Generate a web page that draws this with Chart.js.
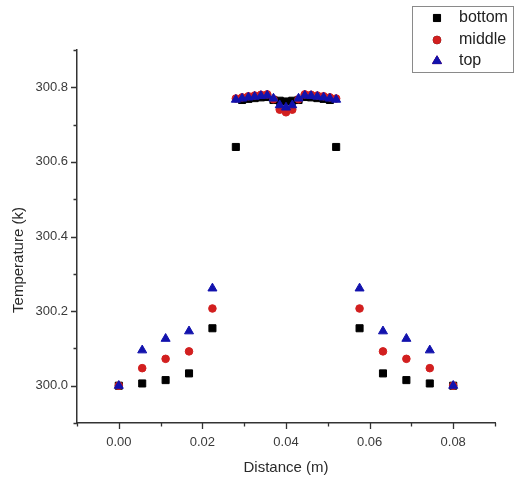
<!DOCTYPE html>
<html>
<head>
<meta charset="utf-8">
<script src="https://cdn.jsdelivr.net/npm/chart.js@4/dist/chart.umd.min.js"></script>
<style>
  html, body { margin: 0; padding: 0; background: #fff; }
  #wrap { width: 514px; height: 481px; }
</style>
</head>
<body>
<div id="wrap"><canvas id="c" width="514" height="481"></canvas></div>
<script>
// Distance along the section (m)
const distance = [
  0, 0.0056, 0.0112, 0.0168, 0.0224,
  0.028, 0.0295, 0.031, 0.0325, 0.034, 0.0355, 0.037, 0.0385,
  0.04,
  0.0415, 0.043, 0.0445, 0.046, 0.0475, 0.049, 0.0505, 0.052,
  0.0576, 0.0632, 0.0688, 0.0744, 0.08
];

// Temperature (K) at each distance
const bottomTemp = [
  300.0, 300.006, 300.015, 300.033, 300.154,
  300.640, 300.766, 300.769, 300.771, 300.773, 300.774, 300.766, 300.764,
  300.762,
  300.764, 300.766, 300.774, 300.773, 300.771, 300.769, 300.766, 300.640,
  300.154, 300.033, 300.015, 300.006, 300.0
];
const middleTemp = [
  300.0, 300.047, 300.072, 300.092, 300.207,
  300.770, 300.773, 300.776, 300.778, 300.780, 300.781, 300.768, 300.740,
  300.733,
  300.740, 300.768, 300.781, 300.780, 300.778, 300.776, 300.773, 300.770,
  300.207, 300.092, 300.072, 300.047, 300.0
];
const topTemp = [
  300.0, 300.095, 300.126, 300.146, 300.261,
  300.767, 300.770, 300.773, 300.775, 300.777, 300.778, 300.770, 300.752,
  300.746,
  300.752, 300.770, 300.778, 300.777, 300.775, 300.773, 300.770, 300.767,
  300.261, 300.146, 300.126, 300.095, 300.0
];

// Axis ticks
const xMajorTicks = [0, 0.02, 0.04, 0.06, 0.08];
const xMinorTicks = [-0.01, 0.01, 0.03, 0.05, 0.07, 0.09];
const yMajorTicks = [300.0, 300.2, 300.4, 300.6, 300.8];
const yMinorTicks = [299.9, 300.1, 300.3, 300.5, 300.7, 300.9];

const FONT = '"Liberation Sans", Arial, Helvetica, sans-serif';
const AXIS_COLOR = '#333';
const TEXT_COLOR = '#3a3a3a';

function toPoints(ys) {
  return distance.map((x, i) => ({ x: x, y: ys[i] }));
}

// Outward tick marks, long for major and short for minor values
const tickMarks = {
  id: 'tickMarks',
  afterDraw(chart) {
    const ctx = chart.ctx;
    const xs = chart.scales.x, ys = chart.scales.y;
    const area = chart.chartArea;
    ctx.save();
    ctx.strokeStyle = AXIS_COLOR;
    ctx.lineWidth = 1.3;
    ctx.beginPath();
    xMajorTicks.forEach(v => { const p = Math.round(xs.getPixelForValue(v)) + 0.5; ctx.moveTo(p, area.bottom); ctx.lineTo(p, area.bottom + 6); });
    xMinorTicks.forEach(v => { const p = Math.round(xs.getPixelForValue(v)) + 0.5; ctx.moveTo(p, area.bottom); ctx.lineTo(p, area.bottom + 3.5); });
    yMajorTicks.forEach(v => { const p = Math.round(ys.getPixelForValue(v)) + 0.5; ctx.moveTo(area.left, p); ctx.lineTo(area.left - 6, p); });
    yMinorTicks.forEach(v => { const p = Math.round(ys.getPixelForValue(v)) + 0.5; ctx.moveTo(area.left, p); ctx.lineTo(area.left - 3.5, p); });
    ctx.stroke();
    ctx.restore();
  }
};

// Axis titles
const axisTitles = {
  id: 'axisTitles',
  afterDraw(chart) {
    const ctx = chart.ctx;
    const area = chart.chartArea;
    ctx.save();
    ctx.fillStyle = '#2a2a2a';
    ctx.font = '15px ' + FONT;
    ctx.textAlign = 'center';
    ctx.textBaseline = 'middle';
    ctx.fillText('Distance (m)', (area.left + area.right) / 2, 468);
    ctx.translate(19, 260);
    ctx.rotate(-Math.PI / 2);
    ctx.fillText('Temperature (k)', 0, 0);
    ctx.restore();
  }
};

// Boxed legend at the top right
const boxLegend = {
  id: 'boxLegend',
  afterDraw(chart) {
    const ctx = chart.ctx;
    ctx.save();
    ctx.strokeStyle = '#8a8a8a';
    ctx.lineWidth = 1;
    ctx.strokeRect(412.5, 6.5, 101, 66);
    const rows = [18, 40, 61];
    chart.data.datasets.forEach((ds, i) => {
      const y = rows[i];
      Chart.helpers.drawPoint(ctx, {
        pointStyle: ds.pointStyle,
        radius: ds.pointRadius,
        borderWidth: 1
      }, 437, y);
      ctx.fillStyle = ds.backgroundColor;
      ctx.strokeStyle = ds.borderColor;
      ctx.fill();
      ctx.stroke();
    });
    ctx.fillStyle = '#222';
    ctx.font = '16px ' + FONT;
    ctx.textAlign = 'left';
    ctx.textBaseline = 'middle';
    chart.data.datasets.forEach((ds, i) => ctx.fillText(ds.label, 459, rows[i]));
    ctx.restore();
  }
};

new Chart(document.getElementById('c'), {
  type: 'scatter',
  data: {
    datasets: [
      // drawn first (back), so the later series sit on top of it
      { label: 'bottom', data: toPoints(bottomTemp), pointStyle: 'rect', pointRadius: 5, order: 2,
        backgroundColor: '#000000', borderColor: '#000000', borderWidth: 1 },
      { label: 'middle', data: toPoints(middleTemp), pointStyle: 'circle', pointRadius: 3.8, order: 1,
        backgroundColor: '#d21f1f', borderColor: '#d21f1f', borderWidth: 1 },
      { label: 'top', data: toPoints(topTemp), pointStyle: 'triangle', pointRadius: 5.2, order: 0,
        backgroundColor: '#1212ad', borderColor: '#1212ad', borderWidth: 1 }
    ]
  },
  options: {
    responsive: false,
    animation: false,
    layout: { padding: { left: 0, top: 50, right: 19, bottom: 0 } },
    plugins: { legend: { display: false }, tooltip: { enabled: false } },
    scales: {
      x: {
        type: 'linear',
        min: -0.01,
        max: 0.09,
        afterBuildTicks: s => { s.ticks = xMajorTicks.map(v => ({ value: v })); },
        afterFit: s => { s.height = 58; },
        grid: { display: false, drawTicks: false },
        border: { display: true, color: AXIS_COLOR, width: 1.5 },
        ticks: {
          padding: 12,
          color: TEXT_COLOR,
          font: { family: FONT, size: 13 },
          maxRotation: 0,
          callback: v => Number(v).toFixed(2)
        }
      },
      y: {
        type: 'linear',
        min: 299.9,
        max: 300.9,
        afterBuildTicks: s => { s.ticks = yMajorTicks.map(v => ({ value: v })); },
        afterFit: s => { s.width = 77; },
        grid: { display: false, drawTicks: false },
        border: { display: true, color: AXIS_COLOR, width: 1.5 },
        ticks: {
          padding: 9,
          color: TEXT_COLOR,
          font: { family: FONT, size: 13 },
          callback: v => Number(v).toFixed(1)
        }
      }
    }
  },
  plugins: [tickMarks, axisTitles, boxLegend]
});
</script>
</body>
</html>
